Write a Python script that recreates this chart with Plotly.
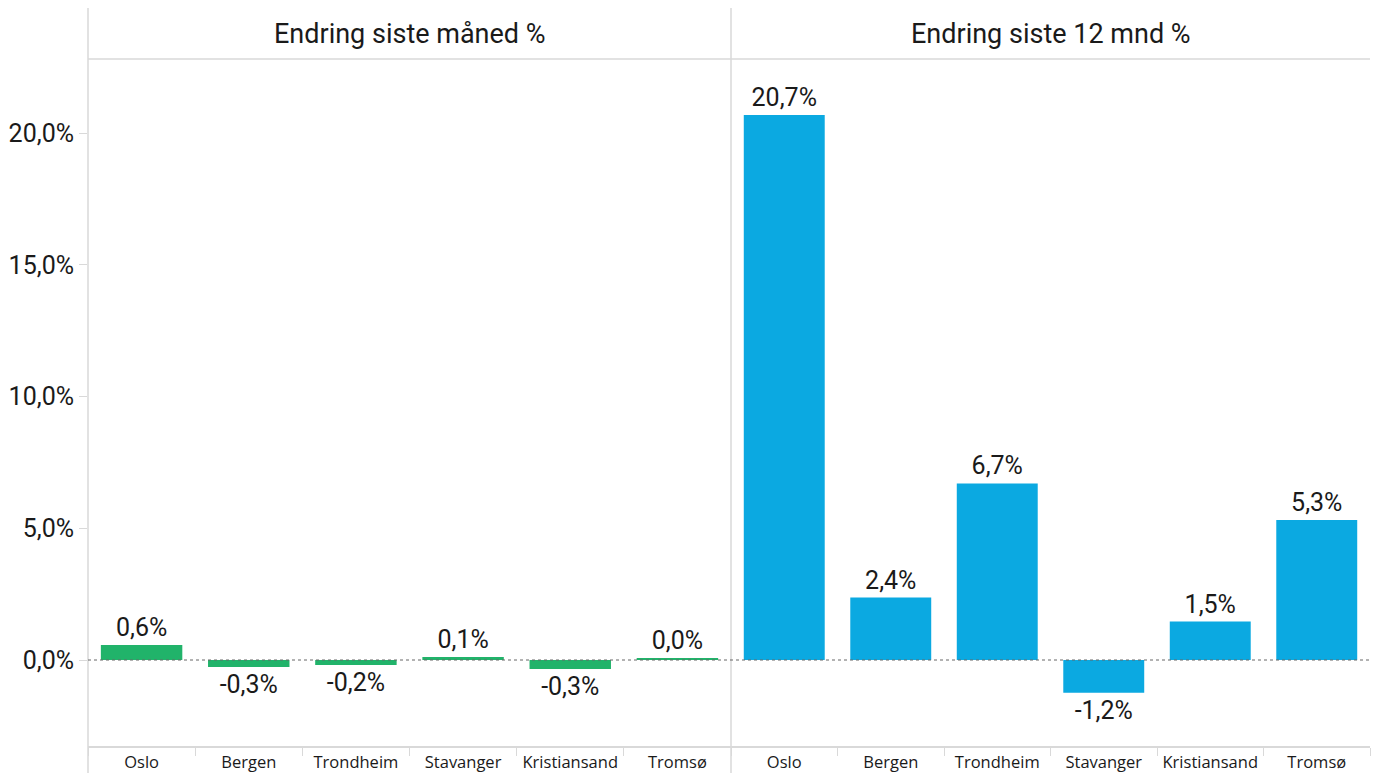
import plotly.graph_objects as go

cities = ["Oslo", "Bergen", "Trondheim", "Stavanger", "Kristiansand", "Tromsø"]
month_change = [0.57, -0.27, -0.19, 0.11, -0.34, 0.04]
year_change = [20.68, 2.37, 6.70, -1.24, 1.46, 5.31]
panel_titles = ["Endring siste måned %", "Endring siste 12 mnd %"]
y_tickvals = [0, 5, 10, 15, 20]
y_ticktext = ["0,0%", "5,0%", "10,0%", "15,0%", "20,0%"]

GREEN = "#21b36a"
BLUE = "#0ba9e1"
GRID = "#d9d9d9"
TXT = "#1a1a1a"
NUMFONT = "Roboto"
LBLFONT = "Open Sans"

def fmt(v):
    return f"{v:.1f}%".replace(".", ",")

split = (731 - 88) / (1376 - 88 - 6)
ytop = (746 - 59) / (746 - 8)

fig = go.Figure()
fig.add_trace(go.Bar(
    x=cities, y=month_change, xaxis="x", yaxis="y",
    marker=dict(color=GREEN, line=dict(width=0)),
    text=[fmt(v) for v in month_change], textposition="outside",
    textfont=dict(family=NUMFONT, size=25, color=TXT),
    constraintext="none", cliponaxis=False, hoverinfo="x+y",
))
fig.add_trace(go.Bar(
    x=cities, y=year_change, xaxis="x2", yaxis="y",
    marker=dict(color=BLUE, line=dict(width=0)),
    text=[fmt(v) for v in year_change], textposition="outside",
    textfont=dict(family=NUMFONT, size=25, color=TXT),
    constraintext="none", cliponaxis=False, hoverinfo="x+y",
))

xcommon = dict(
    type="category", showline=True, linecolor=GRID, linewidth=1.5,
    ticks="outside", tickson="boundaries", ticklen=8, tickcolor=GRID,
    tickfont=dict(family=LBLFONT, size=16.5, color=TXT),
    showgrid=False, zeroline=False, anchor="y", automargin=False,
)

fig.update_layout(
    width=1376, height=773,
    margin=dict(l=88, r=6, t=8, b=27, autoexpand=False),
    paper_bgcolor="white", plot_bgcolor="white",
    showlegend=False, bargap=0.24,
    xaxis=dict(domain=[0, split], **xcommon),
    xaxis2=dict(domain=[split, 1], **xcommon),
    yaxis=dict(
        domain=[0, ytop], range=[-3.264, 22.81],
        tickvals=y_tickvals, ticktext=y_ticktext,
        ticks="outside", ticklen=8, tickcolor=GRID,
        tickfont=dict(family=NUMFONT, size=25, color=TXT),
        showgrid=False, zeroline=False, showline=False, automargin=False,
    ),
)

shapes = [
    dict(type="line", xref="paper", yref="paper", x0=0, x1=0, y0=1, y1=-0.04,
         line=dict(color=GRID, width=1.5)),
    dict(type="line", xref="paper", yref="paper", x0=split, x1=split, y0=1, y1=-0.04,
         line=dict(color=GRID, width=1.5)),
    dict(type="line", xref="paper", yref="paper", x0=0, x1=1, y0=ytop, y1=ytop,
         line=dict(color=GRID, width=1.5)),
    dict(type="line", xref="paper", yref="y", x0=0, x1=1, y0=0, y1=0,
         line=dict(color="#666666", width=1, dash="dot"), layer="above"),
]
fig.update_layout(shapes=shapes)

centers = [split / 2, (split + 1) / 2]
for t, cx in zip(panel_titles, centers):
    fig.add_annotation(
        text=t, x=cx, y=(1 + ytop) / 2, xref="paper", yref="paper",
        showarrow=False, xanchor="center", yanchor="middle",
        font=dict(family=NUMFONT, size=27, color=TXT),
    )

fig.write_html(
    "out.html",
    config={"displayModeBar": False},
    post_script="document.body.style.margin='0';document.body.style.overflow='hidden';",
)
